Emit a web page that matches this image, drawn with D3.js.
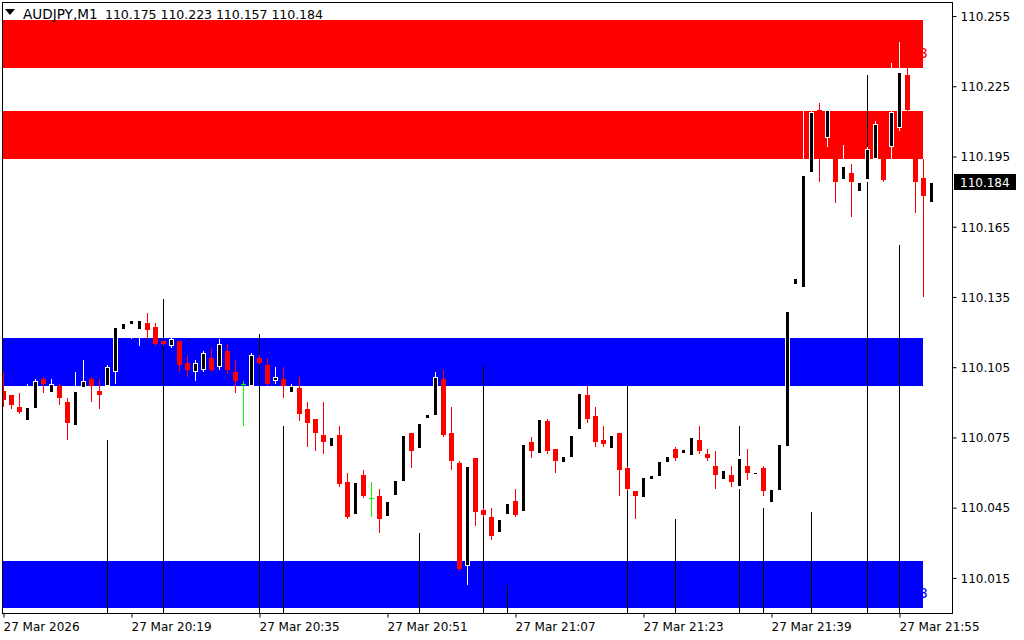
<!DOCTYPE html>
<html><head><meta charset="utf-8">
<script src="https://cdn.jsdelivr.net/npm/d3@7"></script>
<style>
body{margin:0;background:#fff;}
svg{display:block;font-family:"DejaVu Sans",Verdana,sans-serif;}
</style></head><body>
<svg id="c" width="1024" height="640"></svg>
<script>
// ---------- data ----------
const symbolTitle = "AUDJPY,M1";
const headerValues = ["110.175","110.223","110.157","110.184"];

const openP = [110.095,110.093,110.088,110.082,110.087,110.100,110.094,110.097,110.090,110.080,
110.096,110.100,110.095,110.097,110.103,110.121,110.123,110.121,110.124,110.122,
110.116,110.114,110.116,110.107,110.103,110.104,110.109,110.105,110.112,110.103,
110.098,110.097,110.109,110.106,110.099,110.100,110.094,110.096,110.087,110.083,
110.076,110.071,110.076,110.056,110.042,110.059,110.049,110.050,110.041,110.050,
110.056,110.077,110.070,110.083,110.084,110.100,110.077,110.064,110.020,110.066,
110.044,110.041,110.034,110.042,110.048,110.043,110.073,110.068,110.082,110.070,
110.064,110.066,110.078,110.093,110.084,110.074,110.070,110.077,110.062,110.052,
110.049,110.057,110.058,110.064,110.070,110.068,110.067,110.074,110.068,110.063,
110.057,110.059,110.054,110.063,110.059,110.062,110.047,110.052,110.071,110.140,
110.139,110.188,110.215,110.203,110.198,110.185,110.188,110.180,110.185,110.194,
110.198,110.199,110.207,110.230,110.202,110.186,110.175];
const highP = [110.103,110.093,110.094,110.098,110.100,110.101,110.100,110.098,110.092,110.103,
110.108,110.101,110.100,110.106,110.123,110.125,110.126,110.126,110.128,110.124,
110.116,110.118,110.116,110.110,110.108,110.112,110.113,110.117,110.115,110.108,
110.099,110.111,110.110,110.109,110.105,110.105,110.098,110.101,110.090,110.083,
110.090,110.076,110.080,110.060,110.057,110.061,110.056,110.053,110.049,110.058,
110.077,110.077,110.082,110.086,110.103,110.104,110.088,110.065,110.064,110.066,
110.045,110.045,110.041,110.048,110.053,110.073,110.075,110.084,110.083,110.070,
110.068,110.077,110.095,110.097,110.088,110.080,110.077,110.077,110.063,110.052,
110.059,110.060,110.066,110.068,110.071,110.071,110.076,110.080,110.070,110.069,
110.062,110.063,110.067,110.070,110.060,110.063,110.054,110.073,110.130,110.144,
110.215,110.215,110.218,110.216,110.199,110.200,110.192,110.185,110.199,110.210,
110.199,110.235,110.244,110.233,110.203,110.194,110.223];
const lowP = [110.088,110.087,110.085,110.081,110.086,110.094,110.093,110.089,110.074,110.079,
110.095,110.090,110.087,110.096,110.098,110.120,110.117,110.114,110.117,110.114,
110.114,110.113,110.103,110.101,110.099,110.103,110.103,110.104,110.102,110.094,
110.080,110.096,110.106,110.097,110.098,110.092,110.093,110.082,110.071,110.069,
110.068,110.070,110.054,110.040,110.041,110.049,110.041,110.034,110.040,110.049,
110.055,110.062,110.069,110.082,110.083,110.075,110.061,110.018,110.012,110.037,
110.041,110.031,110.033,110.041,110.041,110.042,110.066,110.067,110.068,110.060,
110.063,110.065,110.077,110.081,110.071,110.071,110.069,110.050,110.052,110.040,
110.048,110.056,110.057,110.063,110.065,110.067,110.066,110.068,110.065,110.053,
110.056,110.054,110.053,110.057,110.059,110.050,110.046,110.051,110.070,110.139,
110.138,110.187,110.184,110.199,110.175,110.184,110.169,110.179,110.184,110.193,
110.184,110.194,110.206,110.214,110.171,110.135,110.157];
const closeP = [110.091,110.089,110.086,110.088,110.099,110.098,110.098,110.092,110.081,110.095,
110.099,110.097,110.093,110.105,110.122,110.124,110.125,110.125,110.121,110.115,
110.115,110.117,110.106,110.104,110.107,110.111,110.104,110.115,110.104,110.099,
110.098,110.110,110.107,110.098,110.101,110.097,110.097,110.085,110.081,110.077,
110.073,110.075,110.055,110.041,110.056,110.050,110.049,110.040,110.048,110.057,
110.076,110.069,110.081,110.085,110.101,110.076,110.065,110.019,110.063,110.043,
110.042,110.033,110.040,110.047,110.042,110.072,110.069,110.083,110.069,110.065,
110.067,110.076,110.094,110.083,110.073,110.072,110.076,110.061,110.053,110.050,
110.058,110.059,110.065,110.067,110.066,110.070,110.075,110.069,110.066,110.059,
110.061,110.056,110.066,110.060,110.060,110.052,110.053,110.072,110.129,110.143,
110.187,110.214,110.209,110.215,110.184,110.191,110.184,110.184,110.198,110.209,
110.185,110.214,110.231,110.215,110.184,110.178,110.184];

// long vertical tick lines (candle index, top price) running to the bottom of the chart
const spikeIdx = [13,20,32,35,52,60,63,78,84,92,95,101,108,112];
const spikeTop = [110.074,110.134,110.119,110.080,110.034,110.106,110.012,110.097,110.040,110.080,110.045,110.043,110.230,110.157];

const timeLabels = ["27 Mar 2026","27 Mar 20:19","27 Mar 20:35","27 Mar 20:51","27 Mar 21:07","27 Mar 21:23","27 Mar 21:39","27 Mar 21:55"];
const timeLabelIdx = [0,16,32,48,64,80,96,112];
const priceTicks = [110.015,110.045,110.075,110.105,110.135,110.165,110.195,110.225,110.255];

const zoneTop = [110.2535,110.2145,110.1175,110.022];
const zoneBottom = [110.233,110.194,110.097,110.002];
const zoneColor = ["#ff0000","#ff0000","#0000ff","#0000ff"];
const zoneLabel = ["R3","","","S3"];
const lastPrice = 110.184;

// ---------- layout ----------
const plot = {left:2, top:2, right:952, bottom:613};
const n = openP.length;
const x = d3.scaleLinear().domain([0, n-1]).range([3, 3 + 8*(n-1)]);
const y = d3.scaleLinear().domain([110.000, 110.261]).range([plot.bottom, plot.top]);

const svg = d3.select("#c");
svg.append("rect").attr("width",1024).attr("height",640).attr("fill","#fff");

svg.append("defs").append("clipPath").attr("id","clip")
  .append("rect").attr("x",plot.left).attr("y",plot.top)
  .attr("width",plot.right-plot.left).attr("height",plot.bottom-plot.top);

const g = svg.append("g").attr("clip-path","url(#clip)").attr("shape-rendering","crispEdges");

// zones
const zoneRight = x(115);
zoneTop.forEach((t,i)=>{
  g.append("rect").attr("x",plot.left).attr("y",Math.round(y(t)))
   .attr("width",zoneRight-plot.left).attr("height",Math.round(y(zoneBottom[i]))-Math.round(y(t)))
   .attr("fill",zoneColor[i]);
});
zoneTop.forEach((t,i)=>{
  if(!zoneLabel[i]) return;
  svg.append("text").attr("x",zoneRight+5).attr("y",Math.round(y(zoneBottom[i]))-10)
   .attr("text-anchor","end").attr("font-size",14).attr("fill",zoneColor[i])
   .text(zoneLabel[i]);
});

// spikes
spikeIdx.forEach((k,i)=>{
  g.append("rect").attr("x",x(k)).attr("y",Math.round(y(spikeTop[i])))
   .attr("width",1).attr("height",plot.bottom-Math.round(y(spikeTop[i])))
   .attr("fill","#000");
});

// candles
for(let k=0;k<n;k++){
  const cx = x(k);
  const o=openP[k], c=closeP[k], h=highP[k], l=lowP[k];
  const yh=Math.round(y(h)), yl=Math.round(y(l));
  const yt=Math.round(y(Math.max(o,c))), yb=Math.round(y(Math.min(o,c)));
  if(o===c){
    g.append("rect").attr("x",cx).attr("y",yh).attr("width",1).attr("height",Math.max(1,yl-yh)).attr("fill","#00ff00");
    g.append("rect").attr("x",cx-2).attr("y",yt).attr("width",5).attr("height",1).attr("fill","#00ff00");
  } else if(c>o){
    g.append("rect").attr("x",cx).attr("y",yh).attr("width",1).attr("height",Math.max(1,yl-yh)).attr("fill","#fff");
    const hh=Math.max(1,yb-yt);
    g.append("rect").attr("x",cx-2).attr("y",yt).attr("width",5).attr("height",hh).attr("fill","#fff");
    if(hh>=3) g.append("rect").attr("x",cx-1).attr("y",yt+1).attr("width",3).attr("height",hh-2).attr("fill","#000");
    else g.append("rect").attr("x",cx-1).attr("y",yt).attr("width",3).attr("height",1).attr("fill","#000");
  } else {
    g.append("rect").attr("x",cx).attr("y",yh).attr("width",1).attr("height",Math.max(1,yl-yh)).attr("fill","#ff0000");
    g.append("rect").attr("x",cx-2).attr("y",yt).attr("width",5).attr("height",Math.max(1,yb-yt)).attr("fill","#ff0000");
  }
}

// frame
svg.append("rect").attr("x",plot.left+0.5).attr("y",plot.top+0.5)
  .attr("width",plot.right-plot.left).attr("height",plot.bottom-plot.top)
  .attr("fill","none").attr("stroke","#000");

// right price axis
const ay = svg.append("g").attr("transform",`translate(${plot.right+0.5},0)`)
  .call(d3.axisRight(y).tickValues(priceTicks).tickSize(4).tickPadding(4).tickFormat(d3.format(".3f")));
ay.select(".domain").remove();
ay.selectAll("text").attr("font-family","DejaVu Sans").attr("font-size",12).attr("fill","#000").attr("dy","0.36em");
ay.selectAll("line").attr("stroke","#000");

// bottom time axis
const ax = svg.append("g").attr("transform",`translate(0,${plot.bottom+0.5})`)
  .call(d3.axisBottom(x).tickValues(timeLabelIdx).tickSize(4).tickFormat((d,i)=>timeLabels[i]));
ax.select(".domain").remove();
ax.selectAll("line").attr("stroke","#000").attr("transform","translate(0.5,0)");
ax.selectAll("text").attr("font-family","DejaVu Sans").attr("font-size",12).attr("fill","#000")
  .attr("text-anchor","start").attr("x",0).attr("y",17.5).attr("dy",0);

// current price label
const yl = y(lastPrice);
svg.append("rect").attr("x",954).attr("y",Math.round(yl)-8).attr("width",62).attr("height",16).attr("fill","#000");
svg.append("text").attr("x",960).attr("y",Math.round(yl)+4.5).attr("font-size",12).attr("fill","#fff").text(d3.format(".3f")(lastPrice));

// header
svg.append("path").attr("d","M5,9 L15,9 L10,15 Z").attr("fill","#000");
const hdr = svg.append("text").attr("y",19).attr("fill","#000");
hdr.append("tspan").attr("x",23).attr("font-size",13.6).text(symbolTitle);
hdr.append("tspan").attr("x",105).attr("font-size",12.6).attr("textLength",218).attr("lengthAdjust","spacing")
  .style("white-space","pre").text(headerValues.join(" "));
</script>
</body></html>
